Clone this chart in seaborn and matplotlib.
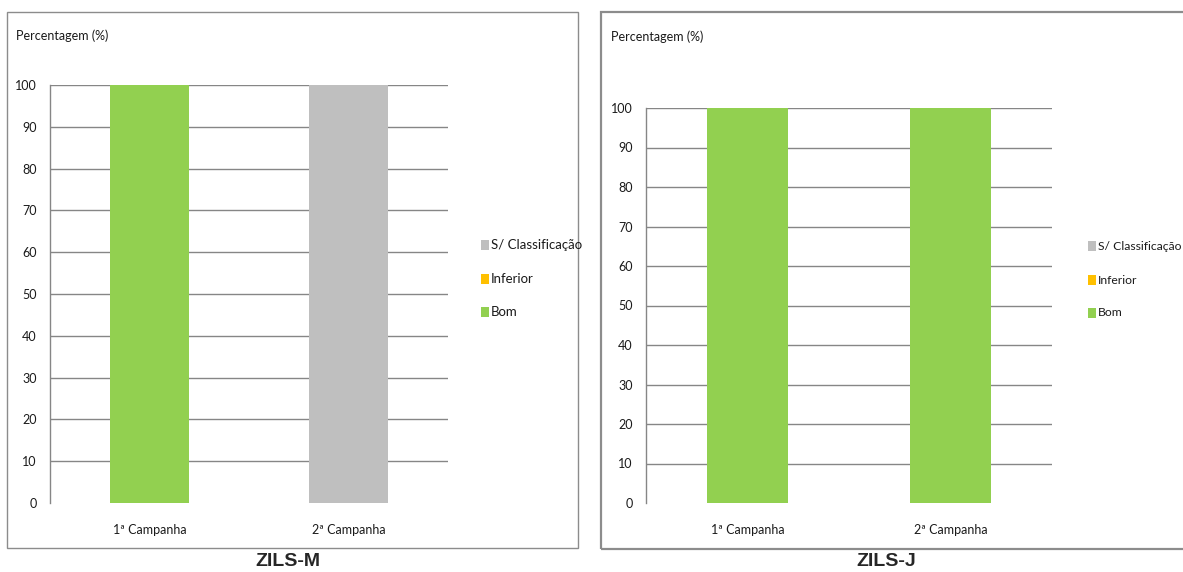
import matplotlib
matplotlib.use("Agg")
import matplotlib.pyplot as plt
from matplotlib import font_manager
from matplotlib.patches import Rectangle
import seaborn as sns
import pandas as pd
import numpy as np

# ---- data ----
categories = ["1ª Campanha", "2ª Campanha"]
series_names = ["Bom", "Inferior", "S/ Classificação"]
zils_m_bom = [100, 0]
zils_m_inferior = [0, 0]
zils_m_sclass = [0, 100]
zils_j_bom = [100, 100]
zils_j_inferior = [0, 0]
zils_j_sclass = [0, 0]
yticks = [0, 10, 20, 30, 40, 50, 60, 70, 80, 90, 100]
titles = ["ZILS-M", "ZILS-J"]

colors = {"Bom": "#92D050", "Inferior": "#FFC000", "S/ Classificação": "#BFBFBF"}

sns.set_theme(style="white")
avail = {f.name for f in font_manager.fontManager.ttflist}
narrow = None
for cand in ["Liberation Sans Narrow", "Lato", "Roboto", "DejaVu Sans"]:
    if cand in avail:
        narrow = cand
        break
plt.rcParams["font.family"] = [narrow, "DejaVu Sans"]

W, H = 1183, 572
fig = plt.figure(figsize=(W / 100, H / 100), dpi=100)
fig.patch.set_facecolor("white")


def px_axes(x0, y_top, x1, y_bot):
    return fig.add_axes([x0 / W, (H - y_bot) / H, (x1 - x0) / W, (y_bot - y_top) / H])


def frame(x0, y0, x1, y1, lw=1.0):
    fig.patches.append(Rectangle((x0 / W, (H - y1) / H), (x1 - x0) / W, (y1 - y0) / H,
                                 transform=fig.transFigure, fill=False,
                                 edgecolor="#8C8C8C", linewidth=lw, zorder=0))


def draw_panel(ax, bom, inf, scl, bar_width):
    df = pd.DataFrame({"cat": categories, "Bom": bom, "Inferior": inf, "S/ Classificação": scl})
    bottom = np.zeros(len(categories))
    for s in series_names:
        vals = df[s].to_numpy(dtype=float)
        sns.barplot(x=df["cat"], y=vals, color=colors[s], width=bar_width,
                    bottom=bottom, ax=ax, saturation=1, linewidth=0, zorder=3)
        bottom = bottom + vals
    ax.set_xlim(-0.5, 1.5)
    ax.set_ylim(0, 100)
    ax.set_yticks(yticks)
    ax.set_yticklabels([str(t) for t in yticks], fontsize=9)
    ax.yaxis.grid(True, color="#868686", linewidth=1.0, zorder=0)
    ax.set_axisbelow(True)
    ax.set_xlabel("")
    ax.set_ylabel("")
    ax.set_xticks([0, 1])
    ax.set_xticklabels(categories, fontsize=9)
    ax.set_xticks([-0.5, 0.5, 1.5], minor=True)
    ax.tick_params(axis="x", which="major", length=0, pad=15)
    ax.tick_params(axis="x", which="minor", length=4, color="#A0A0A0", width=1, direction="out")
    ax.tick_params(axis="y", length=3, color="#868686", width=1, direction="out", pad=6.5)
    for sp in ["top", "right", "bottom"]:
        ax.spines[sp].set_visible(False)
    ax.spines["left"].set_color("#868686")
    ax.spines["left"].set_linewidth(1)
    ax.set_facecolor("none")
    for lab in ax.get_xticklabels() + ax.get_yticklabels():
        lab.set_color("#1a1a1a")
    fig.canvas.draw()
    ax.yaxis.get_gridlines()[0].set_visible(False)


def legend_block(x_sq, ys, fs):
    for name, y in zip(["S/ Classificação", "Inferior", "Bom"], ys):
        fig.patches.append(Rectangle(((x_sq) / W, (H - y - 5) / H), 8 / W, 10 / H,
                                     transform=fig.transFigure, color=colors[name], lw=0))
        fig.text((x_sq + 10) / W, (H - y) / H, name, fontsize=fs,
                 va="center", ha="left", color="#1a1a1a")


# frames
frame(7, 12, 578, 548)
frame(601, 12, 1195, 549, lw=1.6)

ax1 = px_axes(50, 85, 448, 503)
draw_panel(ax1, zils_m_bom, zils_m_inferior, zils_m_sclass, 0.40)
ax2 = px_axes(646, 108, 1052, 503)
draw_panel(ax2, zils_j_bom, zils_j_inferior, zils_j_sclass, 0.40)

fig.text(16 / W, (H - 36) / H, "Percentagem (%)", fontsize=9, va="center", ha="left", color="#1a1a1a")
fig.text(611 / W, (H - 37) / H, "Percentagem (%)", fontsize=9, va="center", ha="left", color="#1a1a1a")

legend_block(481, [245, 279, 312], 9.5)
legend_block(1088, [246, 280, 313], 8.7)

fig.text(288 / W, (H - 562) / H, titles[0], fontsize=14, fontweight="bold",
         family=["Liberation Sans", "DejaVu Sans"], ha="center", va="center")
fig.text(886 / W, (H - 562) / H, titles[1], fontsize=14, fontweight="bold",
         family=["Liberation Sans", "DejaVu Sans"], ha="center", va="center")

fig.savefig("out.png", dpi=100, facecolor="white")
